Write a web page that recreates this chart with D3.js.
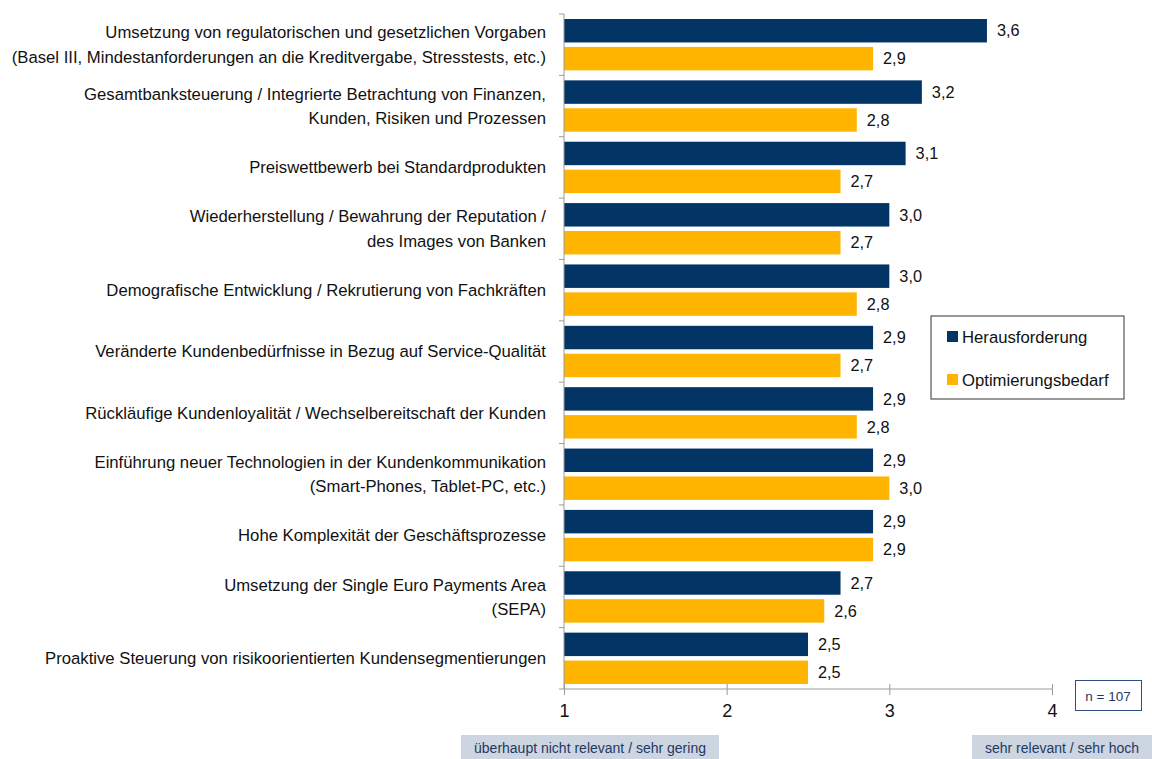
<!DOCTYPE html>
<html>
<head>
<meta charset="utf-8">
<script src="https://d3js.org/d3.v7.min.js"></script>
<style>
  body { margin: 0; background: #fff; }
  text { font-family: "Liberation Sans", Arial, sans-serif; }
</style>
</head>
<body>
<script>
  // categories (line-broken as in the chart)
  var categories = [
    ["Umsetzung von regulatorischen und gesetzlichen Vorgaben", "(Basel III, Mindestanforderungen an die Kreditvergabe, Stresstests, etc.)"],
    ["Gesamtbanksteuerung / Integrierte Betrachtung von Finanzen,", "Kunden, Risiken und Prozessen"],
    ["Preiswettbewerb bei Standardprodukten"],
    ["Wiederherstellung / Bewahrung der Reputation /", "des Images von Banken"],
    ["Demografische Entwicklung / Rekrutierung von Fachkräften"],
    ["Veränderte Kundenbedürfnisse in Bezug auf Service-Qualität"],
    ["Rückläufige Kundenloyalität / Wechselbereitschaft der Kunden"],
    ["Einführung neuer Technologien in der Kundenkommunikation", "(Smart-Phones, Tablet-PC, etc.)"],
    ["Hohe Komplexität der Geschäftsprozesse"],
    ["Umsetzung der Single Euro Payments Area", "(SEPA)"],
    ["Proaktive Steuerung von risikoorientierten Kundensegmentierungen"]
  ];
  var seriesNames = ["Herausforderung", "Optimierungsbedarf"];
  var herausforderung = [3.6, 3.2, 3.1, 3.0, 3.0, 2.9, 2.9, 2.9, 2.9, 2.7, 2.5];
  var optimierungsbedarf = [2.9, 2.8, 2.7, 2.7, 2.8, 2.7, 2.8, 3.0, 2.9, 2.6, 2.5];
  var xTicks = [1, 2, 3, 4];
  var scaleLow = "überhaupt nicht relevant / sehr gering";
  var scaleHigh = "sehr relevant / sehr hoch";
  var sampleNote = "n = 107";

  var colors = ["#023466", "#FFB400"];

  var svg = d3.select("body")
    .append("svg")
    .attr("width", 1152)
    .attr("height", 759);

  var plotLeft = 564, plotRight = 1052, plotTop = 14, plotBottom = 689;

  var x = d3.scaleLinear().domain([1, 4]).range([plotLeft, plotRight]);
  var y = d3.scaleBand().domain(d3.range(categories.length)).range([plotTop, plotBottom]).paddingInner(0);
  var y2 = d3.scaleBand().domain([0, 1]).range([5, y.bandwidth() - 5]).paddingInner(0.16);

  var rows = categories.map(function(c, i) {
    return { i: i, lines: c, vals: [herausforderung[i], optimierungsbedarf[i]] };
  });

  // bars
  var groups = svg.selectAll("g.row")
    .data(rows)
    .enter()
    .append("g")
    .attr("class", "row")
    .attr("transform", function(d){ return "translate(0," + y(d.i) + ")"; });

  groups.selectAll("rect")
    .data(function(d){ return d.vals.map(function(v, k){ return { k: k, v: v }; }); })
    .enter()
    .append("rect")
    .attr("x", x(1))
    .attr("y", function(d){ return y2(d.k); })
    .attr("width", function(d){ return x(d.v) - x(1); })
    .attr("height", y2.bandwidth())
    .style("fill", function(d){ return colors[d.k]; });

  groups.selectAll("text.val")
    .data(function(d){ return d.vals.map(function(v, k){ return { k: k, v: v }; }); })
    .enter()
    .append("text")
    .attr("class", "val")
    .attr("x", function(d){ return x(d.v) + 10; })
    .attr("y", function(d){ return y2(d.k) + y2.bandwidth() / 2; })
    .attr("dy", "0.35em")
    .style("font-size", "16.3px")
    .style("fill", "#111")
    .text(function(d){ return d3.format(".1f")(d.v).replace(".", ","); });

  // category labels
  groups.append("text")
    .attr("text-anchor", "end")
    .attr("x", 546)
    .style("font-size", "16.7px")
    .style("fill", "#111")
    .each(function(d) {
      var t = d3.select(this);
      var n = d.lines.length;
      d.lines.forEach(function(line, j) {
        t.append("tspan")
          .attr("x", 546)
          .attr("y", y.bandwidth() / 2 + (j - (n - 1) / 2) * 24.5)
          .attr("dy", "0.35em")
          .text(line);
      });
    });

  // left axis line with category ticks
  svg.append("line")
    .attr("x1", plotLeft).attr("x2", plotLeft)
    .attr("y1", plotTop).attr("y2", plotBottom)
    .style("stroke", "#9a9a9a");
  svg.selectAll("line.ctick")
    .data(d3.range(categories.length + 1))
    .enter()
    .append("line")
    .attr("class", "ctick")
    .attr("x1", plotLeft - 5).attr("x2", plotLeft)
    .attr("y1", function(d){ return d < categories.length ? y(d) : plotBottom; })
    .attr("y2", function(d){ return d < categories.length ? y(d) : plotBottom; })
    .style("stroke", "#9a9a9a");

  // bottom axis
  var xAxis = svg.append("g")
    .attr("transform", "translate(0," + plotBottom + ")")
    .call(d3.axisBottom(x).tickValues(xTicks).tickSize(6).tickPadding(9).tickFormat(d3.format("d")));
  xAxis.select(".domain").attr("d", "M" + plotLeft + ",0H" + plotRight).style("stroke", "#9a9a9a");
  xAxis.selectAll(".tick line").attr("y1", -5).attr("y2", 6).style("stroke", "#9a9a9a");
  xAxis.selectAll(".tick text")
    .style("font-size", "18px")
    .style("fill", "#111")
    .style("font-family", "'Liberation Sans Narrow', 'Liberation Sans', Arial, sans-serif");

  // scale end labels
  var ends = [
    { text: scaleLow, x0: 461, x1: 719 },
    { text: scaleHigh, x0: 972, x1: 1152 }
  ];
  svg.selectAll("rect.end")
    .data(ends)
    .enter()
    .append("rect")
    .attr("class", "end")
    .attr("x", function(d){ return d.x0; })
    .attr("y", 735)
    .attr("width", function(d){ return d.x1 - d.x0; })
    .attr("height", 24)
    .style("fill", "#cdd5e0");
  svg.selectAll("text.end")
    .data(ends)
    .enter()
    .append("text")
    .attr("class", "end")
    .attr("x", function(d){ return (d.x0 + d.x1) / 2; })
    .attr("y", 748)
    .attr("dy", "0.35em")
    .attr("text-anchor", "middle")
    .style("font-size", "14px")
    .style("fill", "#1f3864")
    .style("font-family", "'Liberation Sans Narrow', 'Liberation Sans', Arial, sans-serif")
    .text(function(d){ return d.text; });

  // legend
  var legend = svg.append("g").attr("transform", "translate(931,316)");
  legend.append("rect")
    .attr("width", 193).attr("height", 83)
    .style("fill", "#fff")
    .style("stroke", "#333");
  var li = legend.selectAll("g.li")
    .data(seriesNames)
    .enter()
    .append("g")
    .attr("transform", function(d, i){ return "translate(16," + (21 + i * 43) + ")"; });
  li.append("rect")
    .attr("y", -6).attr("width", 11).attr("height", 11)
    .style("fill", function(d, i){ return colors[i]; });
  li.append("text")
    .attr("x", 15)
    .attr("dy", "0.35em")
    .style("font-size", "16.7px")
    .style("fill", "#111")
    .text(function(d){ return d; });

  // sample size note
  svg.append("rect")
    .attr("x", 1075.5).attr("y", 680.5)
    .attr("width", 66).attr("height", 30)
    .style("fill", "#fff")
    .style("stroke", "#2f4f80");
  svg.append("text")
    .attr("x", 1108).attr("y", 696)
    .attr("dy", "0.35em")
    .attr("text-anchor", "middle")
    .style("font-size", "13.5px")
    .style("fill", "#1f3864")
    .style("font-family", "'Liberation Sans Narrow', 'Liberation Sans', Arial, sans-serif")
    .text(sampleNote);
</script>
</body>
</html>
